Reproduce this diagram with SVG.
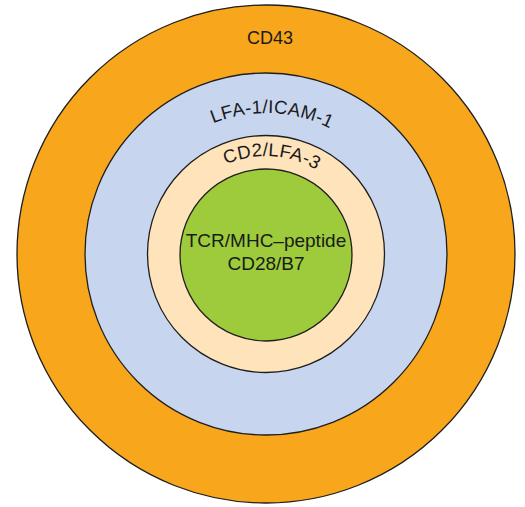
<svg xmlns="http://www.w3.org/2000/svg" xmlns:xlink="http://www.w3.org/1999/xlink" width="525" height="507" viewBox="0 0 525 507">
  <style>
    .ring { stroke: #1e1e1e; stroke-width: 1.3; }
    .lbl { font-family: "Liberation Sans", Arial, Helvetica, sans-serif; font-size: 18px; fill: #1a1a1a; }
    .arc { font-size: 18.5px; letter-spacing: 0.3px; }
    .core { font-size: 19px; }
  </style>
  <defs>
    <!-- baseline arcs for the curved ring labels -->
    <path id="arcLfa" d="M125,254 A141,141 0 0 1 407,254"/>
    <path id="arcCd2" d="M168,254 A98,98 0 0 1 364,254"/>
  </defs>
  <rect width="525" height="507" fill="#ffffff"/>

  <g id="cd43">
    <circle class="ring" cx="266" cy="254" r="249" fill="#F8A61C"/>
    <text class="lbl" x="270" y="44" text-anchor="middle">CD43</text>
  </g>

  <g id="lfa1-icam1">
    <circle class="ring" cx="266" cy="254" r="181" fill="#C7D5EE"/>
    <text class="lbl arc"><textPath xlink:href="#arcLfa" href="#arcLfa" startOffset="227.5" text-anchor="middle">LFA-1/ICAM-1</textPath></text>
  </g>

  <g id="cd2-lfa3">
    <circle class="ring" cx="266" cy="254" r="118.5" fill="#FEE3BB"/>
    <text class="lbl arc"><textPath xlink:href="#arcCd2" href="#arcCd2" startOffset="159.5" text-anchor="middle">CD2/LFA-3</textPath></text>
  </g>

  <g id="tcr-core">
    <circle class="ring" cx="266" cy="255" r="86" fill="#9DCB3B"/>
    <text class="lbl core" x="266" y="247" text-anchor="middle">TCR/MHC–peptide</text>
    <text class="lbl core" x="266" y="270" text-anchor="middle">CD28/B7</text>
  </g>

  <g id="connectors"/>
</svg>
